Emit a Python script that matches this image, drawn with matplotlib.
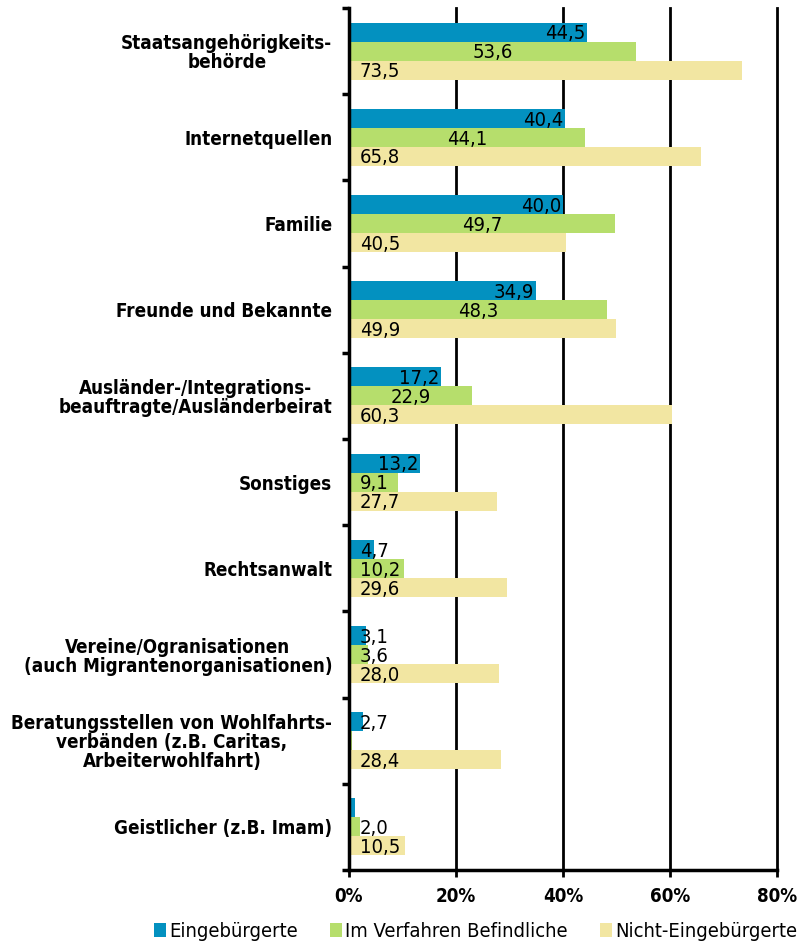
import matplotlib.pyplot as plt
import numpy as np

categories = [
    'Staatsangehörigkeits-\nbehörde',
    'Internetquellen',
    'Familie',
    'Freunde und Bekannte',
    'Ausländer-/Integrations-\nbeauftragte/Ausländerbeirat',
    'Sonstiges',
    'Rechtsanwalt',
    'Vereine/Ogranisationen\n(auch Migrantenorganisationen)',
    'Beratungsstellen von Wohlfahrts-\nverbänden (z.B. Caritas,\nArbeiterwohlfahrt)',
    'Geistlicher (z.B. Imam)',
]
series_names = ['Eingebürgerte', 'Im Verfahren Befindliche', 'Nicht-Eingebürgerte']
eingebuergerte = [44.5, 40.4, 40.0, 34.9, 17.2, 13.2, 4.7, 3.1, 2.7, 1.1]
im_verfahren = [53.6, 44.1, 49.7, 48.3, 22.9, 9.1, 10.2, 3.6, 0.5, 2.0]
nicht_eingebuergerte = [73.5, 65.8, 40.5, 49.9, 60.3, 27.7, 29.6, 28.0, 28.4, 10.5]
# labels shown in the chart (None = no label printed)
lab_ein = ['44,5', '40,4', '40,0', '34,9', '17,2', '13,2', '4,7', '3,1', '2,7', None]
lab_imv = ['53,6', '44,1', '49,7', '48,3', '22,9', '9,1', '10,2', '3,6', None, '2,0']
lab_nicht = ['73,5', '65,8', '40,5', '49,9', '60,3', '27,7', '29,6', '28,0', '28,4', '10,5']
xticks = [0, 20, 40, 60, 80]

colors = ['#0391C0', '#B6DE6C', '#F2E6A2']

plt.rcParams['font.family'] = ['DejaVu Sans']

fig = plt.figure(figsize=(8.06, 9.52), dpi=100)
ax = fig.add_axes([0.433, 0.0861, 0.531, 0.9055])

n = len(categories)
y = np.arange(n)
h = 0.22
ax.barh(y - h, eingebuergerte, height=h, color=colors[0], label=series_names[0], zorder=3)
ax.barh(y, im_verfahren, height=h, color=colors[1], label=series_names[1], zorder=3)
ax.barh(y + h, nicht_eingebuergerte, height=h, color=colors[2], label=series_names[2], zorder=3)

lfs = 14.5
cond = dict(fontstretch='condensed', fontsize=lfs, zorder=4)
min_x = 2.0
for i in range(n):
    if lab_ein[i]:
        v = eingebuergerte[i]
        if v > 8:
            ax.text(v - 0.3, y[i] - h + 0.02, lab_ein[i], ha='right', va='center', **cond)
        else:
            ax.text(min_x, y[i] - h + 0.02, lab_ein[i], ha='left', va='center', **cond)
    if lab_imv[i]:
        v = im_verfahren[i]
        if v > 14:
            ax.text(v / 2, y[i] + 0.02, lab_imv[i], ha='center', va='center', **cond)
        else:
            ax.text(min_x, y[i] + 0.02, lab_imv[i], ha='left', va='center', **cond)
    if lab_nicht[i]:
        ax.text(min_x, y[i] + h + 0.02, lab_nicht[i], ha='left', va='center', **cond)

ax.set_xlim(0, 80)
ax.set_ylim(n - 0.5, -0.5)
ax.set_xticks(xticks)
ax.set_xticklabels([f'{t}%' for t in xticks], fontweight='bold', fontsize=13.5, fontstretch='condensed')
ax.set_yticks(y)
ax.set_yticklabels(categories, fontweight='bold', fontsize=13.5, fontstretch='condensed',
                   multialignment='center', linespacing=1.0)
ax.set_yticks(np.arange(n + 1) - 0.5, minor=True)
ax.tick_params(axis='y', which='major', length=0, pad=12)
ax.tick_params(axis='y', which='minor', length=5, width=2.5, direction='out')
ax.tick_params(axis='x', length=5, width=2, direction='out', pad=7)

for t in xticks[1:]:
    ax.axvline(t, color='black', linewidth=2, zorder=1, clip_on=False)
for s in ['top', 'right']:
    ax.spines[s].set_visible(False)
ax.spines['left'].set_linewidth(2.5)
ax.spines['bottom'].set_linewidth(2.5)
ax.spines['left'].set_zorder(5)

fig.legend(loc='lower center', bbox_to_anchor=(0.59, -0.008), ncol=3, frameon=False,
           handlelength=0.6, handleheight=0.7, handletextpad=0.15, columnspacing=1.6,
           prop={'size': 14.5, 'stretch': 'condensed'})

fig.savefig('out.png', dpi=100)
